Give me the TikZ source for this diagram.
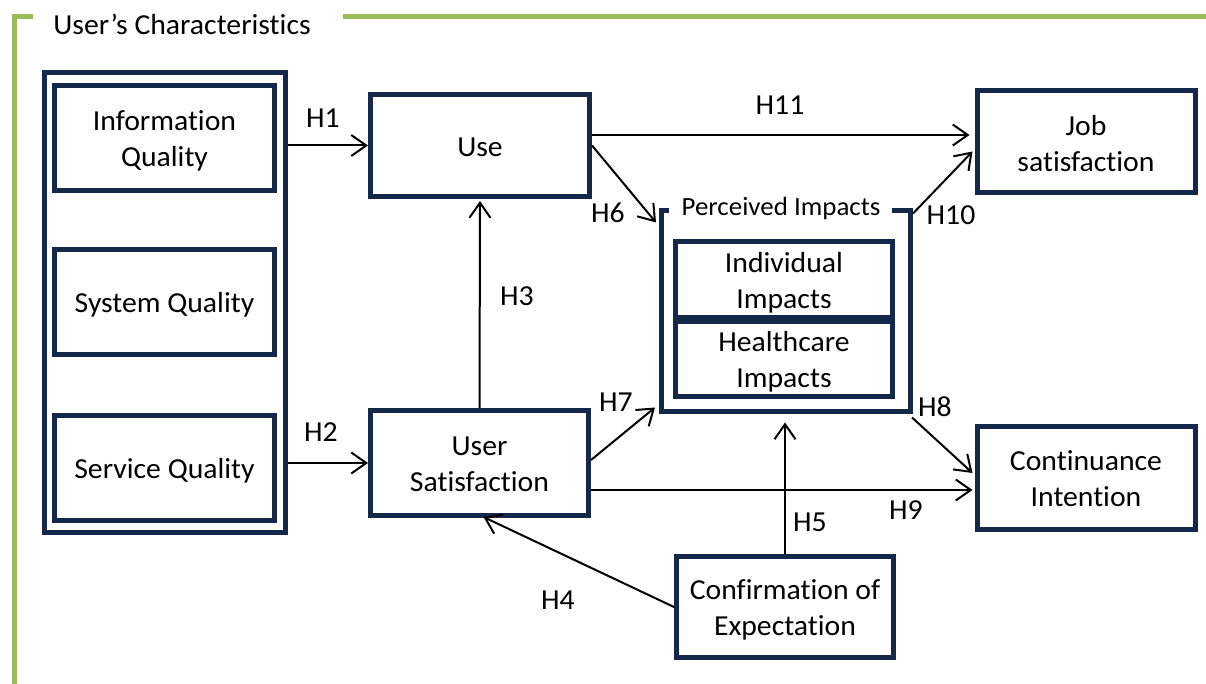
\documentclass[tikz,border=0pt]{standalone}
\usepackage{fontspec}
\setmainfont{Carlito}[Ligatures=NoCommon,FakeStretch=1.025]
\usetikzlibrary{arrows.meta,calc}
\definecolor{navy}{HTML}{14294A}
\definecolor{leaf}{HTML}{9BBB59}
\newcommand{\boxfont}{\fontsize{29}{36}\selectfont}
\newcommand{\smallfont}{\fontsize{26.3}{30}\selectfont}

\begin{document}
\begin{tikzpicture}[x=1pt,y=-1pt,
  box/.style={draw=navy,line width=5pt,fill=white,rectangle,
    inner sep=0pt,outer sep=2.5pt},
  boxtext/.style={font=\boxfont,align=center,inner sep=0pt},
  hlabel/.style={font=\boxfont,inner sep=0pt},
  arr/.style={line width=2pt,black,-{Straight Barb[length=15pt,width=21pt]}}]

\useasboundingbox (0,0) rectangle (1206,684);
\fill[white] (0,0) rectangle (1206,684);

% group bracket
\draw[leaf,line width=5pt] (33,17) -- (14,17) -- (14,684);
\draw[leaf,line width=5pt] (343,17) -- (1206,17);
\node[hlabel] (ucTitle) at (182,24) {User’s Characteristics};

% quality group
\node[box,minimum width=241pt,minimum height=460pt] (outer) at (165,302.5) {};
\node[box,minimum width=220pt,minimum height=105pt] (infoq) at (164.5,138) {};
\node[box,minimum width=220pt,minimum height=105pt] (sysq) at (164.5,302) {};
\node[box,minimum width=220pt,minimum height=105pt] (servq) at (164.5,468) {};
\node[boxtext] (infoqT) at ($(infoq)+(0,3)$) {Information\\Quality};
\node[boxtext] (sysqT) at ($(sysq)+(0,2.5)$) {System Quality};
\node[boxtext] (servqT) at ($(servq)+(0,2.5)$) {Service Quality};

% constructs
\node[box,minimum width=219pt,minimum height=102pt] (use) at (480,145.5) {};
\node[box,minimum width=218pt,minimum height=105pt] (usat) at (479.5,463) {};
\node[box,minimum width=218pt,minimum height=102pt] (job) at (1086,141.5) {};
\node[box,minimum width=218pt,minimum height=103pt] (cont) at (1086,478) {};
\node[box,minimum width=217pt,minimum height=101pt] (conf) at (785,607) {};
\node[boxtext] (useT) at ($(use)+(0,2)$) {Use};
\node[boxtext] (usatT) at ($(usat)+(0,1)$) {User\\Satisfaction};
\node[boxtext] (jobT) at ($(job)+(0,2)$) {Job\\satisfaction};
\node[boxtext] (contT) at ($(cont)+(0,1)$) {Continuance\\Intention};
\node[boxtext] (confT) at ($(conf)+(0,3)$) {Confirmation of\\Expectation};

% perceived impacts frame
\node[minimum width=249pt,minimum height=201pt,inner sep=0pt,outer sep=0pt] (pi) at (785.5,311) {};
\draw[navy,line width=5pt] ($(pi.north west)+(7.5,0)$) -- (pi.north west) -- (pi.south west)
  -- (pi.south east) -- (pi.north east) -- ($(pi.north east)+(-18.5,0)$);
\node[font=\smallfont,inner sep=0pt] (piTitle) at (781,208) {Perceived Impacts};
\node[box,minimum width=217pt,minimum height=76pt] (indiv) at (784,279.5) {};
\node[box,minimum width=217pt,minimum height=75pt] (health) at (784,359) {};
\node[boxtext] (indivT) at ($(indiv)+(0,3)$) {Individual\\Impacts};
\node[boxtext] (healthT) at ($(health)+(0,3)$) {Healthcare\\Impacts};

% hypotheses
\draw[arr] (outer.east |- use.west) -- (use.west);
\draw[arr] (outer.east |- usat.west) -- (usat.west);
\draw[arr,shorten >=2pt] (usat.north) -- (use.south);
\draw[arr] ($(use.east)+(0,-10.5)$) -- ($(job.west)+(-5,-6.5)$);
\draw[arr] (use.east) -- ($(pi.north west)+(-5,12)$);
\draw[arr] ($(pi.north east)+(3,3)$) -- ($(job.west)+(-2,10)$);
\draw[arr] ($(usat.east)+(0,-3)$) -- ($(pi.south west)+(-6,-4)$);
\draw[arr] ($(pi.south east)+(2,6)$) -- ($(cont.west)+(-2,-5)$);
\draw[arr] ($(usat.east)+(0,27)$) -- ($(cont.west)+(-2,12)$);
\coordinate (h5end) at ($(pi.south)+(0,11)$);
\draw[arr] (conf.north) -- (conf.north |- h5end);
\draw[arr] (conf.west) -- ($(usat.south)+(4,-1)$);

% hypothesis labels
\node[hlabel] (lH1) at (323,118) {H1};
\node[hlabel] (lH2) at (321,432) {H2};
\node[hlabel] (lH3) at (517,296) {H3};
\node[hlabel] (lH4) at (558,600) {H4};
\node[hlabel] (lH5) at (810,522) {H5};
\node[hlabel] (lH6) at (608,213) {H6};
\node[hlabel] (lH7) at (616,402) {H7};
\node[hlabel] (lH8) at (935,407) {H8};
\node[hlabel] (lH9) at (906,510) {H9};
\node[hlabel] (lH10) at (951,215) {H10};
\node[hlabel] (lH11) at (780,105) {H11};
\end{tikzpicture}
\end{document}
